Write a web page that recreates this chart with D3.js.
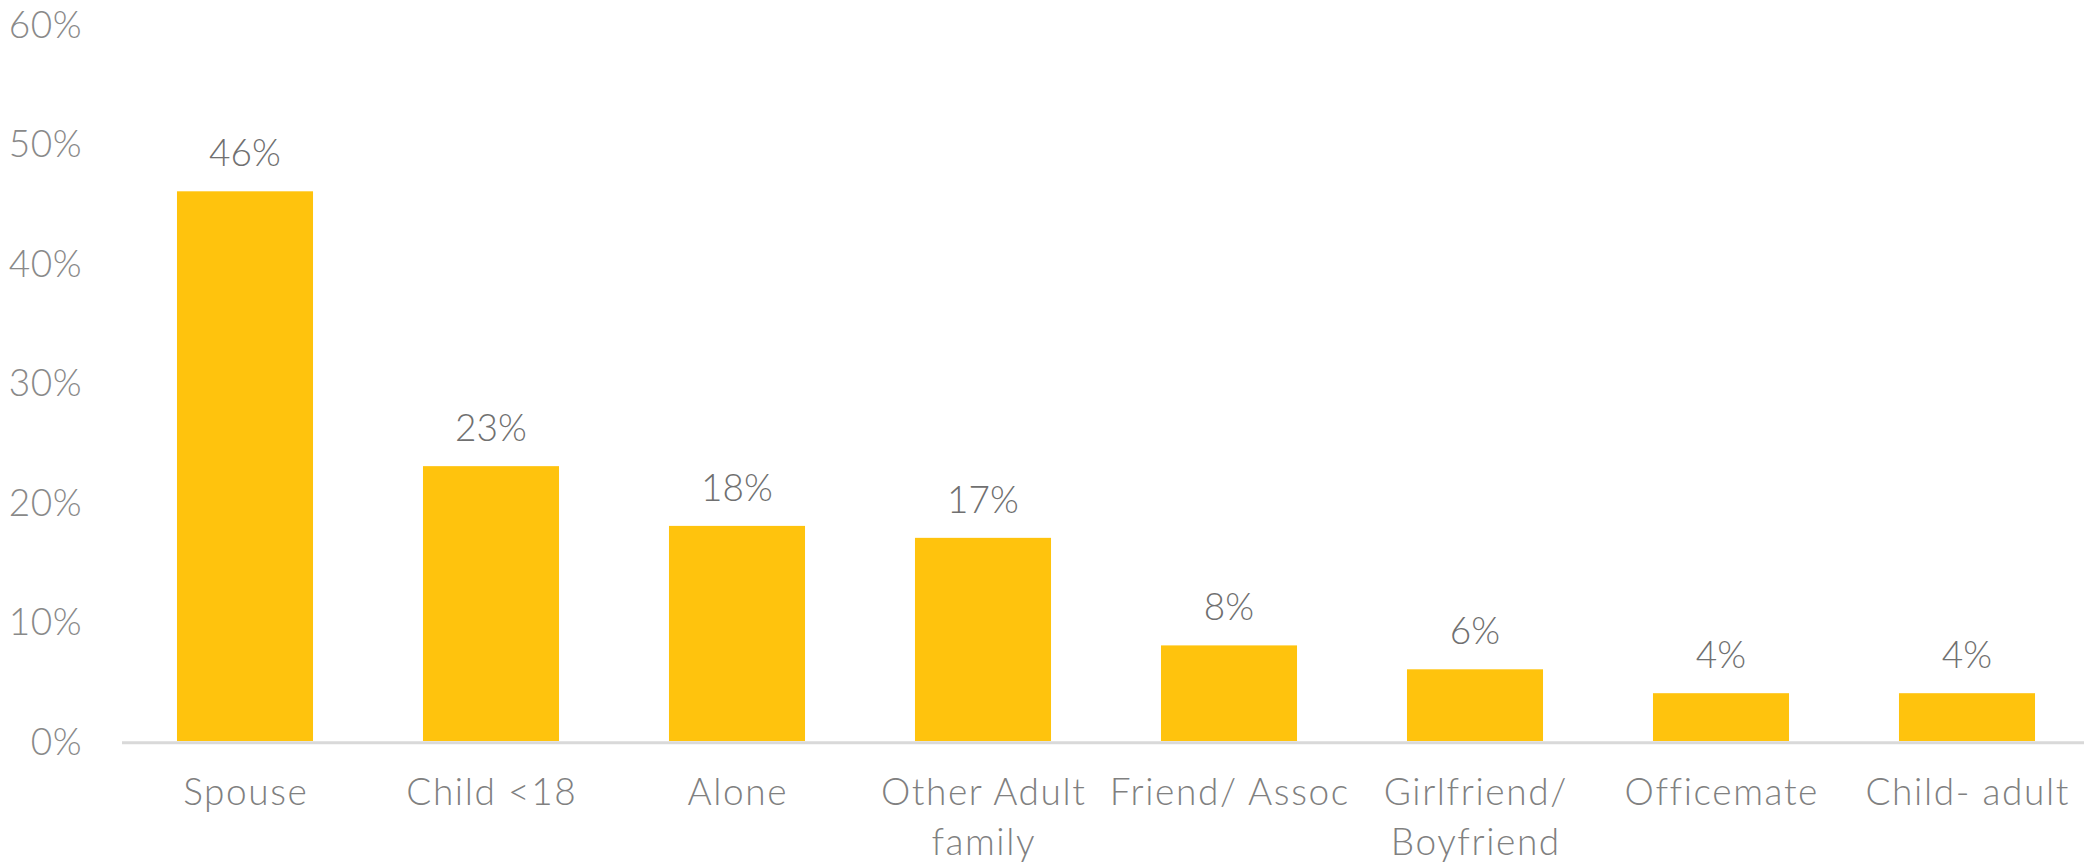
<!DOCTYPE html>
<html>
<head>
<meta charset="utf-8">
<script src="https://cdn.jsdelivr.net/npm/d3@7"></script>
<style>
  html, body { margin: 0; padding: 0; background: #ffffff; }
  svg { display: block; }
  text { font-family: Lato, "Open Sans", "DejaVu Sans", sans-serif; font-weight: 300; }
</style>
</head>
<body>
<svg id="chart" width="2084" height="865"></svg>
<script>
const categories = ["Spouse", "Child <18", "Alone", "Other Adult\nfamily", "Friend/ Assoc", "Girlfriend/\nBoyfriend", "Officemate", "Child- adult"];
const values = [0.46, 0.23, 0.18, 0.17, 0.08, 0.06, 0.04, 0.04];
const valueLabels = ["46%", "23%", "18%", "17%", "8%", "6%", "4%", "4%"];
const yTicks = [0, 0.1, 0.2, 0.3, 0.4, 0.5, 0.6];

const svg = d3.select("#chart");
const fontSize = 37;

const x = d3.scaleBand()
  .domain(categories)
  .range([122, 2090])
  .paddingInner(0.447)
  .paddingOuter(0.2235);

const y = d3.scaleLinear()
  .domain([0, 0.6])
  .range([741, 24]);

// Y axis labels (no line, no ticks)
const yAxis = d3.axisLeft(y)
  .tickValues(yTicks)
  .tickFormat(d3.format(".0%"))
  .tickSize(0)
  .tickPadding(0);
const gy = svg.append("g").attr("transform", "translate(82,0)").call(yAxis);
gy.select(".domain").remove();
gy.selectAll("text")
  .attr("fill", "#898989")
  .style("font-size", fontSize + "px")
  .style("font-family", "Lato, 'Open Sans', sans-serif")
  .style("font-weight", 300)
  .style("letter-spacing", "0.5px")
  .attr("dy", "0.36em");

// Bars
svg.append("g").selectAll("rect")
  .data(categories)
  .join("rect")
  .attr("x", d => x(d))
  .attr("width", x.bandwidth())
  .attr("y", (d, i) => y(values[i]))
  .attr("height", (d, i) => y(0) - y(values[i]))
  .attr("fill", "#FFC30D");

// Baseline axis
const xAxis = d3.axisBottom(x).tickSize(0).tickFormat("");
const gx = svg.append("g").attr("transform", "translate(0," + (y(0) + 1.8) + ")").call(xAxis);
gx.select(".domain")
  .attr("d", "M122,0H2084")
  .attr("stroke", "#d9d9d9")
  .attr("stroke-width", 3);

// Category labels
const lab = svg.append("g").selectAll("text")
  .data(categories)
  .join("text")
  .attr("x", d => x(d) + x.bandwidth() / 2)
  .attr("y", 805)
  .attr("text-anchor", "middle")
  .attr("fill", "#808080")
  .style("letter-spacing", "1.6px")
  .style("font-size", fontSize + "px");
lab.each(function(d) {
  const t = d3.select(this);
  d.split("\n").forEach((line, k) => {
    t.append("tspan")
      .attr("x", x(d) + x.bandwidth() / 2 + 0.8)
      .attr("dy", k === 0 ? 0 : 50)
      .text(line);
  });
});

// Value labels
svg.append("g").selectAll("text")
  .data(categories)
  .join("text")
  .attr("x", d => x(d) + x.bandwidth() / 2)
  .attr("y", (d, i) => y(values[i]) - 25)
  .attr("text-anchor", "middle")
  .attr("fill", "#707070")
  .style("font-size", fontSize + "px")
  .text((d, i) => valueLabels[i]);
</script>
</body>
</html>
